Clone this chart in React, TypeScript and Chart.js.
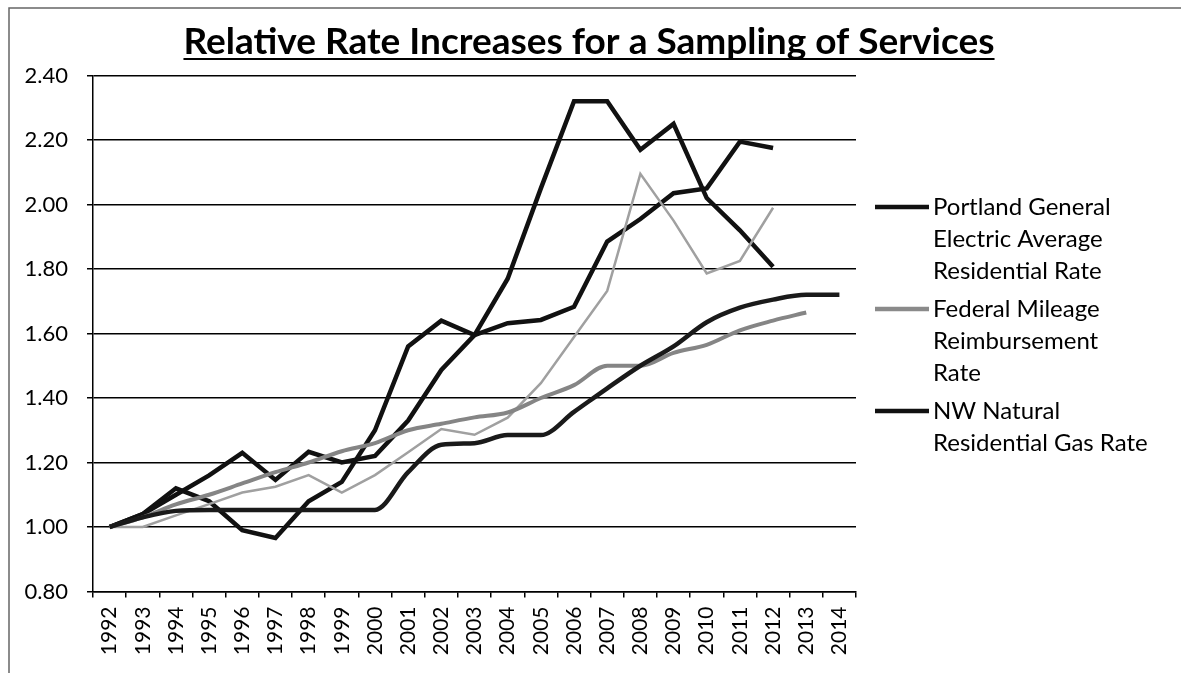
import React, { useEffect, useRef } from "react";
import { Chart, registerables } from "chart.js";

Chart.register(...registerables);

// ---- data ----
const years = [
  "1992", "1993", "1994", "1995", "1996", "1997", "1998", "1999", "2000", "2001", "2002",
  "2003", "2004", "2005", "2006", "2007", "2008", "2009", "2010", "2011", "2012", "2013", "2014",
];

const pgeRate = [
  1.0, 1.04, 1.12, 1.08, 0.99, 0.966, 1.08, 1.14, 1.3, 1.56, 1.64, 1.595, 1.632, 1.642, 1.683,
  1.885, 1.955, 2.035, 2.05, 2.195, 2.175, null, null,
];

const mileageRate = [
  1.0, 1.0, 1.036, 1.071, 1.107, 1.125, 1.161, 1.107, 1.161, 1.232, 1.304, 1.286, 1.339, 1.446,
  1.589, 1.732, 2.095, 1.95, 1.786, 1.825, 1.99, null, null,
];

const nwNaturalRate = [
  1.0, 1.04, 1.1, 1.16, 1.23, 1.146, 1.233, 1.2, 1.22, 1.33, 1.487, 1.595, 1.77, 2.05, 2.32, 2.32,
  2.17, 2.25, 2.02, 1.92, 1.807, null, null,
];

const unlabeledBlack = [
  1.0, 1.03, 1.05, 1.053, 1.053, 1.053, 1.053, 1.053, 1.053, 1.17, 1.255, 1.26, 1.285, 1.285,
  1.357, 1.43, 1.5, 1.56, 1.635, 1.68, 1.705, 1.72, 1.72,
];

const unlabeledGray = [
  1.0, 1.03, 1.07, 1.1, 1.135, 1.17, 1.2, 1.235, 1.26, 1.3, 1.32, 1.34, 1.355, 1.4, 1.44, 1.5,
  1.5, 1.54, 1.565, 1.61, 1.64, 1.665, null,
];

const yMin = 0.8;
const yMax = 2.4;
const yStep = 0.2;

const titleText = "Relative Rate Increases for a Sampling of Services";

const pgeLegend = ["Portland General", "Electric Average", "Residential Rate"];
const mileageLegend = ["Federal Mileage", "Reimbursement", "Rate"];
const nwLegend = ["NW Natural", "Residential Gas Rate"];

const FONT = "Lato, 'Open Sans', sans-serif";

// ---- plugins ----
const framePlugin = {
  id: "frame",
  beforeDraw(chart: any) {
    const ctx = chart.ctx;
    ctx.save();
    ctx.fillStyle = "#ffffff";
    ctx.fillRect(0, 0, chart.width, chart.height);
    ctx.strokeStyle = "#666666";
    ctx.lineWidth = 1.5;
    ctx.beginPath();
    ctx.moveTo(9, chart.height);
    ctx.lineTo(9, 8);
    ctx.lineTo(chart.width, 8);
    ctx.stroke();
    ctx.restore();
  },
};

const titlePlugin = {
  id: "underlinedTitle",
  afterDraw(chart: any) {
    const ctx = chart.ctx;
    ctx.save();
    ctx.font = `bold 37px ${FONT}`;
    ctx.fillStyle = "#000";
    ctx.textAlign = "center";
    ctx.textBaseline = "alphabetic";
    const cx = 589;
    const baseY = 54;
    ctx.fillText(titleText, cx, baseY);
    const w = ctx.measureText(titleText).width;
    ctx.strokeStyle = "#000";
    ctx.lineWidth = 2;
    ctx.beginPath();
    ctx.moveTo(cx - w / 2, baseY + 5);
    ctx.lineTo(cx + w / 2, baseY + 5);
    ctx.stroke();
    ctx.restore();
  },
};

const legendPlugin = {
  id: "wrappedLegend",
  afterDraw(chart: any) {
    const ctx = chart.ctx;
    ctx.save();
    ctx.font = `24px ${FONT}`;
    ctx.fillStyle = "#000";
    ctx.textBaseline = "middle";
    ctx.textAlign = "left";
    const lineH = 32;
    const gap = 6;
    let y = 207;
    const items = chart.data.datasets
      .filter((ds: any) => ds.legendLines)
      .sort((a: any, b: any) => a.legendRank - b.legendRank);
    items.forEach((ds: any) => {
      ctx.strokeStyle = ds.legendColor || ds.borderColor;
      ctx.lineWidth = 4.5;
      ctx.beginPath();
      ctx.moveTo(875, y);
      ctx.lineTo(929, y);
      ctx.stroke();
      ds.legendLines.forEach((t: string, i: number) => {
        ctx.fillText(t, 933, y + i * lineH);
      });
      y += ds.legendLines.length * lineH + gap;
    });
    ctx.restore();
  },
};

export default function App() {
  const canvasRef = useRef<HTMLCanvasElement | null>(null);

  useEffect(() => {
    if (!canvasRef.current) return;
    const chart = new Chart(canvasRef.current, {
      type: "line",
      data: {
        labels: years,
        datasets: [
          {
            label: "Series 4",
            data: unlabeledBlack,
            borderColor: "#1a1a1a",
            borderWidth: 4.5,
            pointRadius: 0,
            cubicInterpolationMode: "monotone",
          },
          {
            label: "Series 5",
            data: unlabeledGray,
            borderColor: "#858585",
            borderWidth: 4,
            pointRadius: 0,
            cubicInterpolationMode: "monotone",
          },
          {
            label: "Federal Mileage Reimbursement Rate",
            data: mileageRate,
            borderColor: "#a0a0a0",
            borderWidth: 2.5,
            pointRadius: 0,
            tension: 0,
            legendLines: mileageLegend,
            legendRank: 2,
            legendColor: "#8a8a8a",
          } as any,
          {
            label: "NW Natural Residential Gas Rate",
            data: nwNaturalRate,
            borderColor: "#111111",
            borderWidth: 4.5,
            pointRadius: 0,
            tension: 0,
            legendLines: nwLegend,
            legendRank: 3,
          } as any,
          {
            label: "Portland General Electric Average Residential Rate",
            data: pgeRate,
            borderColor: "#111111",
            borderWidth: 4.5,
            pointRadius: 0,
            tension: 0,
            legendLines: pgeLegend,
            legendRank: 1,
          } as any,
        ],
      },
      options: {
        animation: false,
        responsive: true,
        maintainAspectRatio: false,
        layout: { padding: { top: 75.5, right: 325, bottom: 0, left: 0 } },
        plugins: {
          legend: { display: false },
          title: { display: false },
          tooltip: { enabled: false },
        },
        scales: {
          x: {
            type: "category",
            offset: true,
            grid: {
              display: true,
              drawOnChartArea: false,
              drawTicks: true,
              tickLength: 6,
              color: "#000",
              lineWidth: 1.5,
              offset: true,
            },
            border: { display: true, color: "#000", width: 1.5 },
            ticks: {
              autoSkip: false,
              minRotation: 90,
              maxRotation: 90,
              padding: 9,
              color: "#000",
              font: { family: FONT, size: 21 },
            },
            afterFit(scale: any) {
              scale.height = 81.5;
            },
          },
          y: {
            min: yMin,
            max: yMax,
            grid: {
              color: "#000",
              lineWidth: 1.5,
              tickLength: 6,
              drawTicks: true,
            },
            border: { display: true, color: "#000", width: 1.5 },
            ticks: {
              stepSize: yStep,
              padding: 19,
              color: "#000",
              font: { family: FONT, size: 22 },
              callback: (v: any) => Number(v).toFixed(2),
            },
            afterFit(scale: any) {
              scale.width = 93;
            },
          },
        },
      },
      plugins: [framePlugin, titlePlugin, legendPlugin],
    });
    return () => chart.destroy();
  }, []);

  return (
    <div style={{ position: "absolute", left: 0, top: 0, width: 1181, height: 673 }}>
      <canvas ref={canvasRef} />
    </div>
  );
}
